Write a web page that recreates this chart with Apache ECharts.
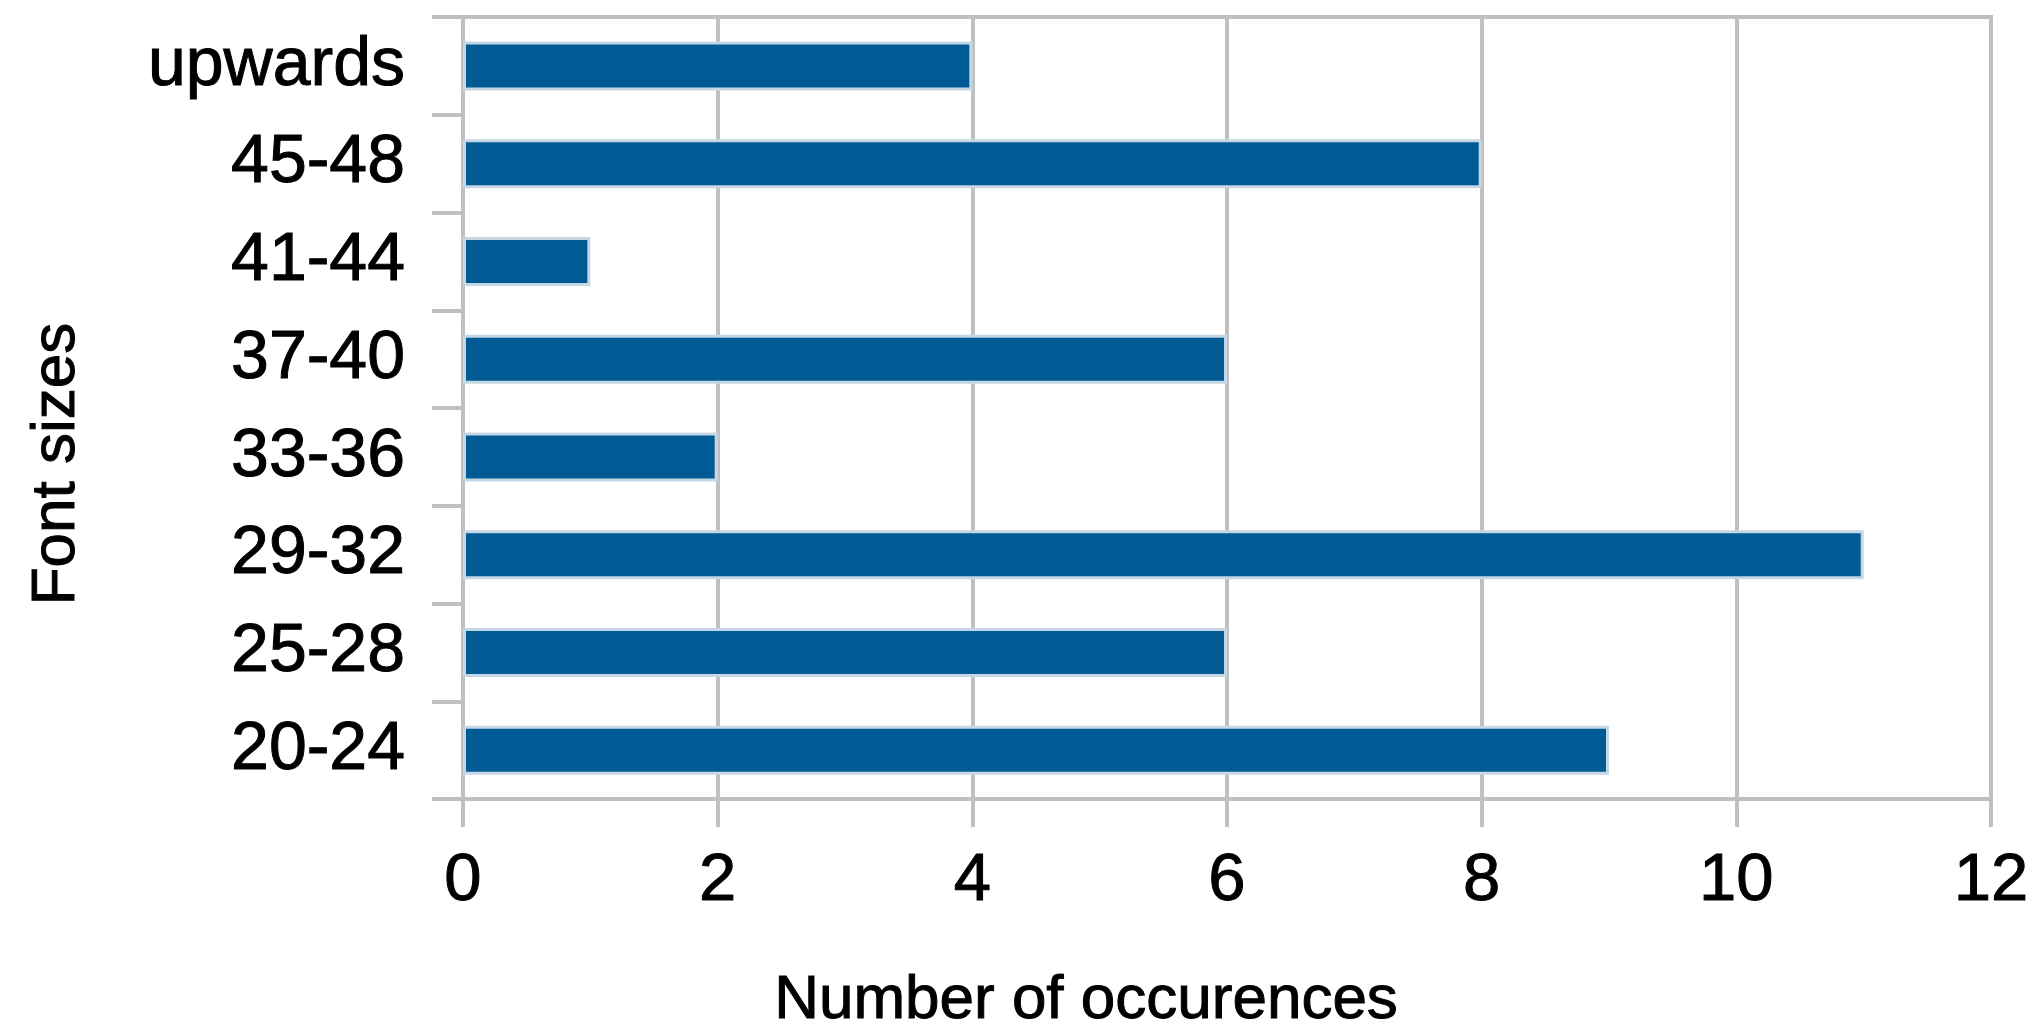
<!DOCTYPE html>
<html>
<head>
<meta charset="utf-8">
<script src="https://cdn.jsdelivr.net/npm/echarts@6/dist/echarts.min.js"></script>
<style>
html,body{margin:0;padding:0;background:#fff;}
#chart{width:2040px;height:1030px;}
</style>
</head>
<body>
<div id="chart"></div>
<script>
const categories = ['20-24', '25-28', '29-32', '33-36', '37-40', '41-44', '45-48', 'upwards'];
const occurrences = [9, 6, 11, 2, 6, 1, 8, 4];
const xTicks = [0, 2, 4, 6, 8, 10, 12];

const FONT = "'Liberation Sans', Arial, sans-serif";
const GRAY = '#c0c0c0';
const TXT = {fontFamily: FONT, color: '#000', textBorderColor: '#000', textBorderWidth: 1};

const chart = echarts.init(document.getElementById('chart'), null, {renderer: 'canvas'});
chart.setOption({
  animation: false,
  backgroundColor: '#ffffff',
  grid: {
    left: 463, right: 49, top: 17, bottom: 231,
    outerBoundsMode: 'none',
    containLabel: false,
    show: true, borderColor: GRAY, borderWidth: 4, backgroundColor: 'transparent'
  },
  xAxis: {
    type: 'value',
    min: xTicks[0], max: xTicks[xTicks.length - 1], interval: 2,
    name: 'Number of occurences',
    nameLocation: 'middle',
    nameGap: 171,
    nameTextStyle: Object.assign({fontSize: 62, padding: [0, 282, 0, 0]}, TXT),
    axisLine: {show: true, lineStyle: {color: GRAY, width: 4}},
    axisTick: {show: true, length: 28, lineStyle: {color: GRAY, width: 4}},
    axisLabel: Object.assign({fontSize: 67, margin: 49}, TXT),
    splitLine: {show: true, lineStyle: {color: GRAY, width: 4}}
  },
  yAxis: {
    type: 'category',
    data: categories,
    name: 'Font sizes',
    nameLocation: 'middle',
    nameRotate: 90,
    nameGap: 375,
    nameTextStyle: Object.assign({fontSize: 62, padding: [0, 112, 0, 0]}, TXT),
    axisLine: {show: true, lineStyle: {color: GRAY, width: 4}},
    axisTick: {show: true, length: 31, alignWithLabel: false, lineStyle: {color: GRAY, width: 4}},
    axisLabel: Object.assign({fontSize: 68, margin: 58}, TXT),
    splitLine: {show: false}
  },
  series: [{
    type: 'bar',
    data: occurrences,
    barWidth: 49,
    itemStyle: {color: '#005a94', borderColor: '#c5d7e5', borderWidth: 3}
  }]
});
</script>
</body>
</html>
